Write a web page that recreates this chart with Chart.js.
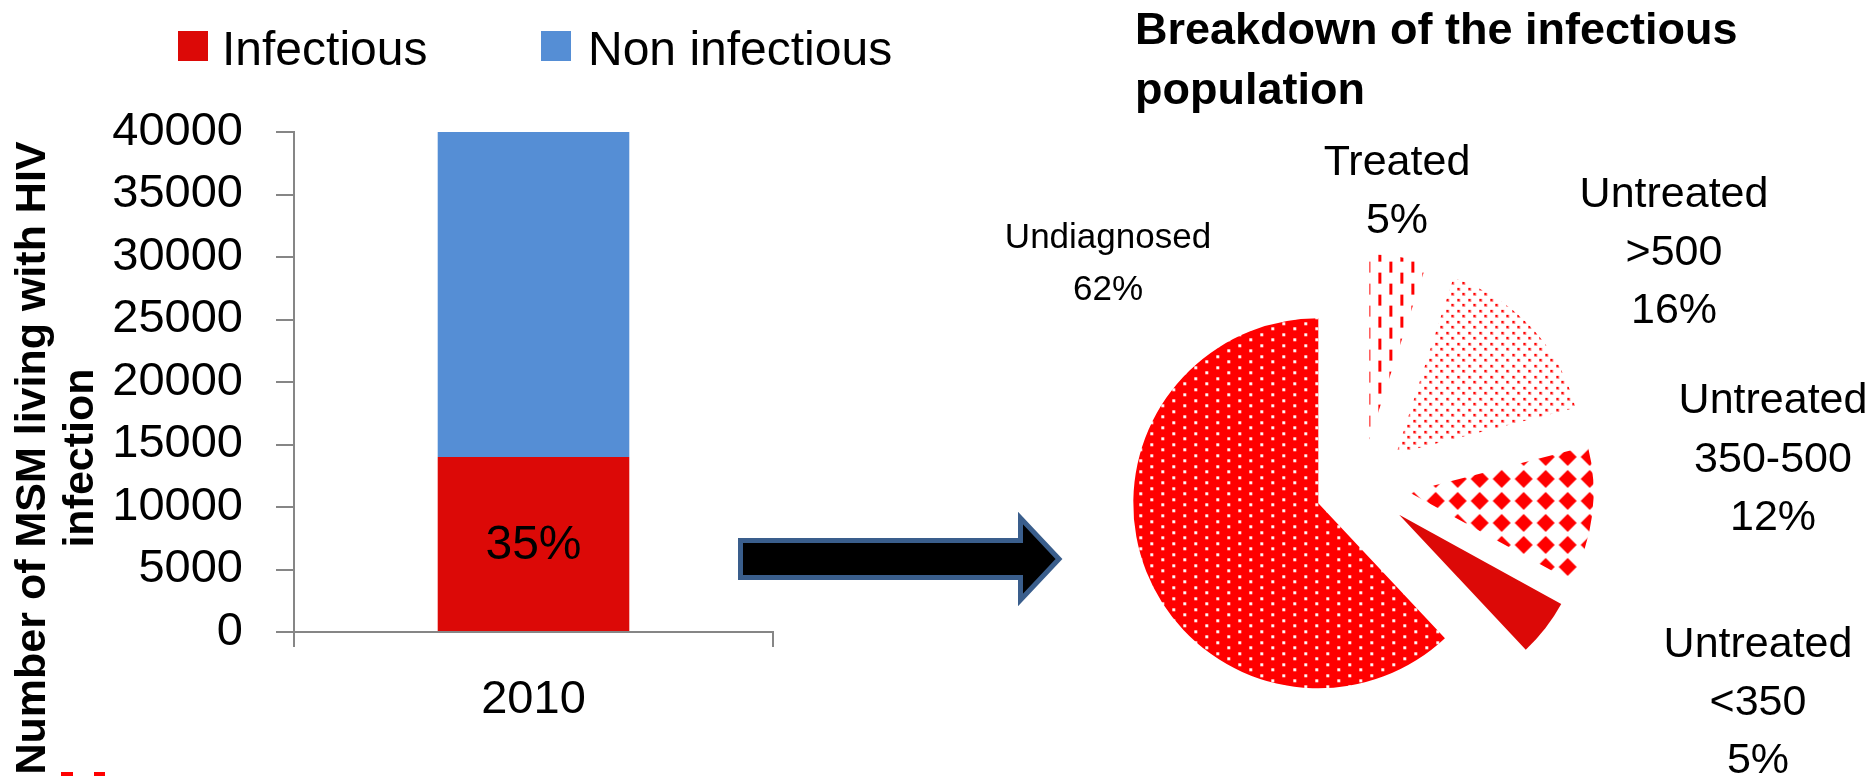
<!DOCTYPE html>
<html>
<head>
<meta charset="utf-8">
<script src="https://cdn.jsdelivr.net/npm/chart.js@4.4.1/dist/chart.umd.min.js"></script>
<style>
  html, body { margin: 0; padding: 0; background: #ffffff; width: 1876px; height: 777px; overflow: hidden; }
  #bar { position: absolute; left: 0; top: 0; }
  #pie { position: absolute; left: 960px; top: 0; }
  #deco { position: absolute; left: 0; top: 0; pointer-events: none; }
</style>
</head>
<body>
<canvas id="bar" width="940" height="777"></canvas>
<canvas id="pie" width="916" height="777"></canvas>
<svg id="deco" width="1876" height="777" xmlns="http://www.w3.org/2000/svg">
  <path d="M740.5,540.5 L1020.5,540.5 L1020.5,518 L1059,559 L1020.5,600 L1020.5,577.5 L740.5,577.5 Z"
        fill="#000000" stroke="#3A5E8C" stroke-width="5" stroke-linejoin="miter"/>
  <rect x="61" y="772" width="12" height="4" fill="#FF0000"/>
  <rect x="94" y="772" width="11" height="4" fill="#FF0000"/>
</svg>
<script>
// ---------------- data ----------------
const barCategories = ['2010'];
const seriesNames = ['Infectious', 'Non infectious'];
const infectiousValues = [14000];
const nonInfectiousValues = [26000];
const yTickMin = 0;
const yTickMax = 40000;
const yTickStep = 5000;
const yAxisTitleLines = ['Number of MSM living with HIV', 'infection'];

const pieTitleLines = ['Breakdown of the infectious', 'population'];
const pieCategories = [['Treated'], ['Untreated', '>500'], ['Untreated', '350-500'], ['Untreated', '<350'], ['Undiagnosed']];
const pieValues = [5, 16, 12, 5, 62];

// ---------------- styles ----------------
const FONT = "'Liberation Sans', Arial, sans-serif";
Chart.defaults.font.family = FONT;
Chart.defaults.color = '#000000';
const RED = '#DC0907';
const BLUE = '#558ED5';
const AXIS = '#868686';

function makePattern(w, h, draw) {
  const c = document.createElement('canvas');
  c.width = w; c.height = h;
  const g = c.getContext('2d');
  draw(g, w, h);
  return g.createPattern(c, 'repeat');
}
const patUndiag = makePattern(22, 22, (g) => {
  g.fillStyle = '#FF0000'; g.fillRect(0, 0, 22, 22);
  g.fillStyle = '#FFE8E8';
  [[3, 2], [14, 8], [3, 13], [14, 19]].forEach(([x, y]) => g.fillRect(x, y, 3, 3));
  g.fillStyle = '#FFFFFF';
  [[3, 2], [14, 8], [3, 13], [14, 19]].forEach(([x, y]) => g.fillRect(x, y, 2, 2));
});
const patTreated = makePattern(22, 22, (g) => {
  g.fillStyle = '#FFFFFF'; g.fillRect(0, 0, 22, 22);
  g.fillStyle = '#FF0000';
  g.fillRect(4, 0, 3, 11);
  g.fillRect(15, 11, 3, 11);
});
const patDots = makePattern(22, 11, (g) => {
  g.fillStyle = '#FFFFFF'; g.fillRect(0, 0, 22, 11);
  g.fillStyle = '#FF8080';
  [[1, 1], [12, 1], [6, 6], [17, 6]].forEach(([x, y]) => g.fillRect(x, y, 3, 3));
  g.fillStyle = '#FF0000';
  [[1, 1], [12, 1], [6, 6], [17, 6]].forEach(([x, y]) => g.fillRect(x, y, 2, 2));
});
const patDiamond = makePattern(22, 22, (g) => {
  g.fillStyle = '#FFFFFF'; g.fillRect(0, 0, 22, 22);
  g.fillStyle = '#FF0000';
  g.beginPath();
  g.moveTo(11, 2); g.lineTo(20, 11); g.lineTo(11, 20); g.lineTo(2, 11); g.closePath();
  g.fill();
});

// ---------------- bar chart plugins ----------------
const barLegendPlugin = {
  id: 'barLegend',
  afterDraw(chart, args, opts) {
    const ctx = chart.ctx;
    ctx.save();
    ctx.font = `${opts.fontSize}px ${FONT}`;
    ctx.textBaseline = 'alphabetic';
    ctx.textAlign = 'left';
    chart.data.datasets.forEach((ds, i) => {
      const p = opts.items[i];
      ctx.fillStyle = ds.backgroundColor;
      ctx.fillRect(p.boxX, opts.boxY, opts.boxSize, opts.boxSize);
      ctx.fillStyle = '#000000';
      ctx.fillText(ds.label, p.textX, opts.baseline);
    });
    ctx.restore();
  }
};

const yTitlePlugin = {
  id: 'yTitle',
  afterDraw(chart, args, opts) {
    const ctx = chart.ctx;
    ctx.save();
    ctx.font = `bold ${opts.fontSize}px ${FONT}`;
    ctx.fillStyle = '#000000';
    ctx.textAlign = 'center';
    ctx.textBaseline = 'alphabetic';
    opts.lines.forEach((line, i) => {
      ctx.save();
      ctx.translate(opts.baselineX[i], opts.centerY);
      ctx.rotate(-Math.PI / 2);
      ctx.fillText(line, 0, 0);
      ctx.restore();
    });
    ctx.restore();
  }
};

const barLabelPlugin = {
  id: 'barLabel',
  afterDatasetsDraw(chart, args, opts) {
    const ctx = chart.ctx;
    const meta = chart.getDatasetMeta(0);
    ctx.save();
    ctx.font = `${opts.fontSize}px ${FONT}`;
    ctx.fillStyle = '#000000';
    ctx.textAlign = 'center';
    ctx.textBaseline = 'middle';
    meta.data.forEach((bar, i) => {
      const total = infectiousValues[i] + nonInfectiousValues[i];
      const pct = Math.round(infectiousValues[i] / total * 100) + '%';
      ctx.fillText(pct, bar.x, (bar.y + bar.base) / 2 + 2);
    });
    ctx.restore();
  }
};

new Chart(document.getElementById('bar'), {
  type: 'bar',
  data: {
    labels: barCategories,
    datasets: [
      { label: seriesNames[0], data: infectiousValues, backgroundColor: RED, borderWidth: 0 },
      { label: seriesNames[1], data: nonInfectiousValues, backgroundColor: BLUE, borderWidth: 0 }
    ]
  },
  options: {
    responsive: false,
    animation: false,
    events: [],
    layout: { padding: { top: 132, right: 167, bottom: 0, left: 0 } },
    datasets: { bar: { categoryPercentage: 1.0, barPercentage: 0.4 } },
    plugins: {
      legend: { display: false },
      tooltip: { enabled: false },
      barLegend: {
        fontSize: 48, boxSize: 30, boxY: 31, baseline: 65,
        items: [{ boxX: 178, textX: 222 }, { boxX: 541, textX: 588 }]
      },
      yTitle: { fontSize: 43, lines: yAxisTitleLines, baselineX: [45, 93], centerY: 458 },
      barLabel: { fontSize: 48 }
    },
    scales: {
      x: {
        stacked: true,
        offset: true,
        grid: { offset: true, drawOnChartArea: false, drawTicks: true, tickLength: 15, color: AXIS, lineWidth: 2 },
        border: { display: true, color: AXIS, width: 2 },
        ticks: { color: '#000000', font: { size: 47, family: FONT }, padding: 25 },
        afterFit: (s) => { s.height = 145; }
      },
      y: {
        stacked: true,
        min: yTickMin,
        max: yTickMax,
        grid: { drawOnChartArea: false, drawTicks: true, tickLength: 18, color: AXIS, lineWidth: 2 },
        border: { display: true, color: AXIS, width: 2 },
        ticks: {
          stepSize: yTickStep, color: '#000000', font: { size: 47, family: FONT }, padding: 33,
          callback: (v) => String(v)
        },
        afterFit: (s) => { s.width = 294; }
      }
    }
  },
  plugins: [barLegendPlugin, yTitlePlugin, barLabelPlugin]
});

// ---------------- pie chart plugins ----------------
const explodePlugin = {
  id: 'explode',
  beforeDatasetDraw(chart, args, opts) {
    const ctx = chart.ctx;
    const d = opts.distance || 0;
    args.meta.data.forEach((arc) => {
      const mid = (arc.startAngle + arc.endAngle) / 2;
      ctx.save();
      ctx.translate(Math.cos(mid) * d, Math.sin(mid) * d);
      arc.draw(ctx);
      ctx.restore();
    });
    return false;
  }
};

const pieTitlePlugin = {
  id: 'pieTitle',
  afterDraw(chart, args, opts) {
    const ctx = chart.ctx;
    ctx.save();
    ctx.font = `bold ${opts.fontSize}px ${FONT}`;
    ctx.fillStyle = '#000000';
    ctx.textAlign = 'left';
    ctx.textBaseline = 'alphabetic';
    opts.lines.forEach((t, i) => ctx.fillText(t, opts.x, opts.baseline + i * opts.gap));
    ctx.restore();
  }
};

const pieLabelPlugin = {
  id: 'pieLabels',
  afterDatasetsDraw(chart, args, opts) {
    const ctx = chart.ctx;
    const area = chart.chartArea;
    const cx = (area.left + area.right) / 2;
    const cy = (area.top + area.bottom) / 2;
    const vals = chart.data.datasets[0].data;
    const total = vals.reduce((a, b) => a + b, 0);
    ctx.save();
    ctx.fillStyle = '#000000';
    ctx.textAlign = 'center';
    ctx.textBaseline = 'alphabetic';
    chart.data.labels.forEach((lab, i) => {
      const p = opts.placement[i];
      const lines = [...lab, Math.round(vals[i] / total * 100) + '%'];
      ctx.font = `${p.size}px ${FONT}`;
      lines.forEach((t, j) => ctx.fillText(t, cx + p.dx, cy + p.dy + j * p.gap));
    });
    ctx.restore();
  }
};

new Chart(document.getElementById('pie'), {
  type: 'pie',
  data: {
    labels: pieCategories,
    datasets: [{
      data: pieValues,
      backgroundColor: [patTreated, patDots, patDiamond, RED, patUndiag],
      borderWidth: 0
    }]
  },
  options: {
    responsive: false,
    animation: false,
    events: [],
    radius: 185,
    layout: { padding: { top: 195, right: 162, bottom: 0, left: 50 } },
    plugins: {
      legend: { display: false },
      tooltip: { enabled: false },
      title: { display: false },
      pieTitle: { lines: pieTitleLines, fontSize: 45, x: 175, baseline: 44, gap: 60 },
      explode: { distance: 47 },
      pieLabels: {
        placement: [
          { dx: 35, dy: -311, gap: 58, size: 43 },
          { dx: 312, dy: -279, gap: 58, size: 43 },
          { dx: 411, dy: -73, gap: 58.5, size: 43 },
          { dx: 396, dy: 171, gap: 58, size: 43 },
          { dx: -254, dy: -238, gap: 52, size: 35 }
        ]
      }
    }
  },
  plugins: [explodePlugin, pieTitlePlugin, pieLabelPlugin]
});
</script>
</body>
</html>
